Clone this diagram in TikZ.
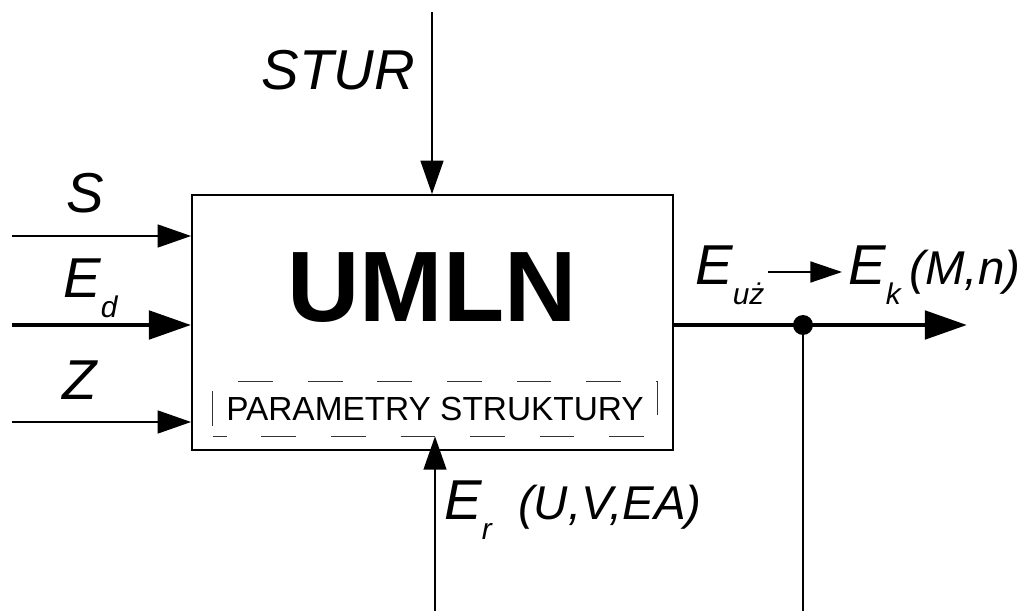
\documentclass[tikz,border=0pt]{standalone}
\usepackage{fontspec}
\setmainfont{Liberation Sans}
\usetikzlibrary{arrows.meta,calc}
\newcommand{\lowsub}[1]{\raisebox{-11pt}{\fontsize{17}{17}\selectfont #1}}
\newcommand{\argtext}[1]{{\fontsize{27}{30}\selectfont #1}}

\begin{document}
\begin{tikzpicture}[x=0.02cm, y=-0.02cm,
    lbl/.style={font=\fontsize{32}{36}\selectfont\itshape, inner sep=0pt},
    thinarr/.style={line width=1.1pt, -{Triangle[length=19pt, width=13pt]}},
    thickarr/.style={line width=2.8pt, -{Triangle[length=24pt, width=16pt]}},
    smallarr/.style={line width=0.8pt, -{Triangle[length=18pt, width=12pt]}}]
  \useasboundingbox (0,0) rectangle (1022,611);
  % block
  \node[draw, line width=1.1pt, minimum width=9.62cm, minimum height=5.1cm, inner sep=0pt] (box) at (432.5,322.5) {};
  \node[font=\fontsize{57}{60}\selectfont\bfseries, anchor=base, inner sep=0pt] (umln) at (432,322) {UMLN};
  \node[minimum width=8.88cm, minimum height=1.08cm, inner sep=0pt,
        font=\fontsize{19}{20}\selectfont] (param) at (435,409) {PARAMETRY STRUKTURY};
  \draw[gray!40!black, line width=0.7pt, dash pattern=on 19.8pt off 19.8pt, dash phase=11.9pt]
    (param.south west) -- (param.south east) -- (param.north east) -- (param.north west) -- cycle;
  % inputs
  \coordinate (sturin) at (432,12);
  \coordinate (sin) at (12,236);
  \coordinate (edin) at (12,325);
  \coordinate (zin) at (12,422);
  \coordinate (erin) at (435,611);
  \draw[thinarr] (sturin) -- (sturin |- box.north);
  \draw[thinarr] (sin) -- (sin -| box.west);
  \draw[thickarr] (edin) -- (edin -| box.west);
  \draw[thinarr] (zin) -- (zin -| box.west);
  \draw[thinarr] (erin) -- (erin |- param.south);
  % output
  \coordinate (outend) at (967,325);
  \coordinate (tapend) at (803,611);
  \draw[thickarr] (box.east |- outend) -- (outend);
  \node[circle, fill, inner sep=0pt, minimum size=0.4cm] (tap) at (803,325) {};
  \draw[line width=1.1pt] (tap) -- (tapend);
  % labels
  \node[lbl, anchor=base east] (stur) at (415,90) {STUR};
  \node[lbl, anchor=base] (s) at (85,213) {S};
  \node[lbl, anchor=base west] (ed) at (63,298) {E\lowsub{d}};
  \node[lbl, anchor=base] (z) at (80,400) {Z};
  \node[lbl, anchor=base west] (euz) at (695,285) {E\lowsub{uż}};
  \node[lbl, anchor=base west] (ek) at (848,285) {E\lowsub{k}\hspace{5pt}\argtext{(M,n)}};
  \node[lbl, anchor=base west] (er) at (444,520) {E\lowsub{r}\hspace{15pt}\argtext{(U,V,EA)}};
  \coordinate (uzs) at ($(euz.base east)+(3,-13)$);
  \draw[smallarr] (uzs) -- ($(uzs -| ek.base west)+(-6,0)$);
\end{tikzpicture}
\end{document}
